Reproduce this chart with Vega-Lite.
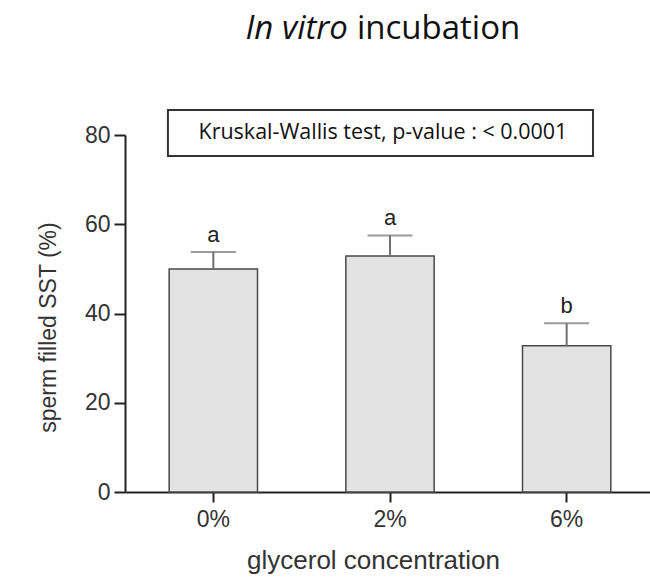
{
  "$schema": "https://vega.github.io/schema/vega-lite/v6.json",
  "width": 525,
  "height": 357,
  "autosize": "none",
  "padding": {"left": 125, "top": 135, "right": 0, "bottom": 88},
  "background": "white",
  "config": {"view": {"stroke": null}, "font": "Liberation Sans"},
  "resolve": {"scale": {"x": "independent"}, "axis": {"x": "independent"}},
  "layer": [
    {
      "data": {
        "values": [
          {"conc": "0%", "value": 50.0, "err": 53.8, "letter": "a"},
          {"conc": "2%", "value": 52.9, "err": 57.5, "letter": "a"},
          {"conc": "6%", "value": 32.8, "err": 37.8, "letter": "b"}
        ]
      },
      "encoding": {
        "x": {
          "field": "conc",
          "type": "nominal",
          "sort": null,
          "scale": {"range": [0, 530], "paddingInner": 0.5, "paddingOuter": 0.25},
          "axis": {
            "title": "glycerol concentration",
            "labelAngle": 0,
            "labelFont": "Liberation Sans",
            "labelFontSize": 23,
            "labelColor": "#333333",
            "labelPadding": 6,
            "tickSize": 10,
            "tickWidth": 2,
            "tickColor": "#222222",
            "domainColor": "#222222",
            "domainWidth": 2,
            "titleFont": "Liberation Sans",
            "titleFontSize": 26,
            "titleFontWeight": "normal",
            "titleColor": "#333333",
            "titlePadding": 16,
            "titleX": 248
          }
        }
      },
      "layer": [
        {
          "mark": {"type": "bar", "fill": "#e3e3e3", "stroke": "#4a4a4a", "strokeWidth": 1.5},
          "encoding": {
            "y": {
              "field": "value",
              "type": "quantitative",
              "scale": {"domain": [0, 80], "nice": false, "zero": true},
              "axis": {
                "title": "sperm filled SST (%)",
                "values": [0, 20, 40, 60, 80],
                "grid": false,
                "tickSize": 11,
                "tickWidth": 2,
                "tickColor": "#222222",
                "domainColor": "#222222",
                "domainWidth": 2,
                "labelFont": "Liberation Sans",
                "labelFontSize": 23,
                "labelColor": "#333333",
                "labelPadding": 4,
                "titleFont": "Liberation Sans",
                "titleFontSize": 23,
                "titleFontWeight": "normal",
                "titleColor": "#333333",
                "titlePadding": 24,
                "titleY": 192
              }
            }
          }
        },
        {
          "mark": {"type": "rule", "color": "#707070", "strokeWidth": 2},
          "encoding": {
            "y": {"field": "value", "type": "quantitative"},
            "y2": {"field": "err"}
          }
        },
        {
          "mark": {"type": "tick", "color": "#707070", "thickness": 2},
          "encoding": {
            "y": {"field": "err", "type": "quantitative"},
            "size": {"value": 45}
          }
        },
        {
          "mark": {"type": "text", "dy": -10, "baseline": "alphabetic", "fontSize": 22, "color": "#222222", "font": "Liberation Sans"},
          "encoding": {
            "y": {"field": "err", "type": "quantitative"},
            "text": {"field": "letter"}
          }
        }
      ]
    },
    {
      "data": {"values": [{}]},
      "layer": [
        {
          "mark": {"type": "rect", "fill": "white", "stroke": "#333333", "strokeWidth": 2},
          "encoding": {
            "x": {"datum": 0.243, "type": "quantitative", "scale": {"domain": [0, 3], "range": [0, 530]}, "axis": null},
            "x2": {"datum": 2.649},
            "y": {"datum": 85.6, "type": "quantitative"},
            "y2": {"datum": 75.3}
          }
        },
        {
          "mark": {"type": "text", "font": "Open Sans", "fontSize": 21.5, "color": "#111111", "align": "center", "baseline": "middle"},
          "encoding": {
            "x": {"datum": 1.46, "type": "quantitative"},
            "y": {"datum": 80.4, "type": "quantitative"},
            "text": {"value": "Kruskal-Wallis test, p-value : < 0.0001"}
          }
        },
        {
          "mark": {"type": "text", "font": "Open Sans", "fontSize": 33, "fontStyle": "italic", "color": "#111111", "align": "right", "baseline": "alphabetic"},
          "encoding": {
            "x": {"datum": 1.262, "type": "quantitative"},
            "y": {"datum": 101.5, "type": "quantitative"},
            "text": {"value": "In vitro"}
          }
        },
        {
          "mark": {"type": "text", "font": "Open Sans", "fontSize": 33, "color": "#111111", "align": "left", "baseline": "alphabetic"},
          "encoding": {
            "x": {"datum": 1.313, "type": "quantitative"},
            "y": {"datum": 101.5, "type": "quantitative"},
            "text": {"value": "incubation"}
          }
        }
      ]
    }
  ]
}
